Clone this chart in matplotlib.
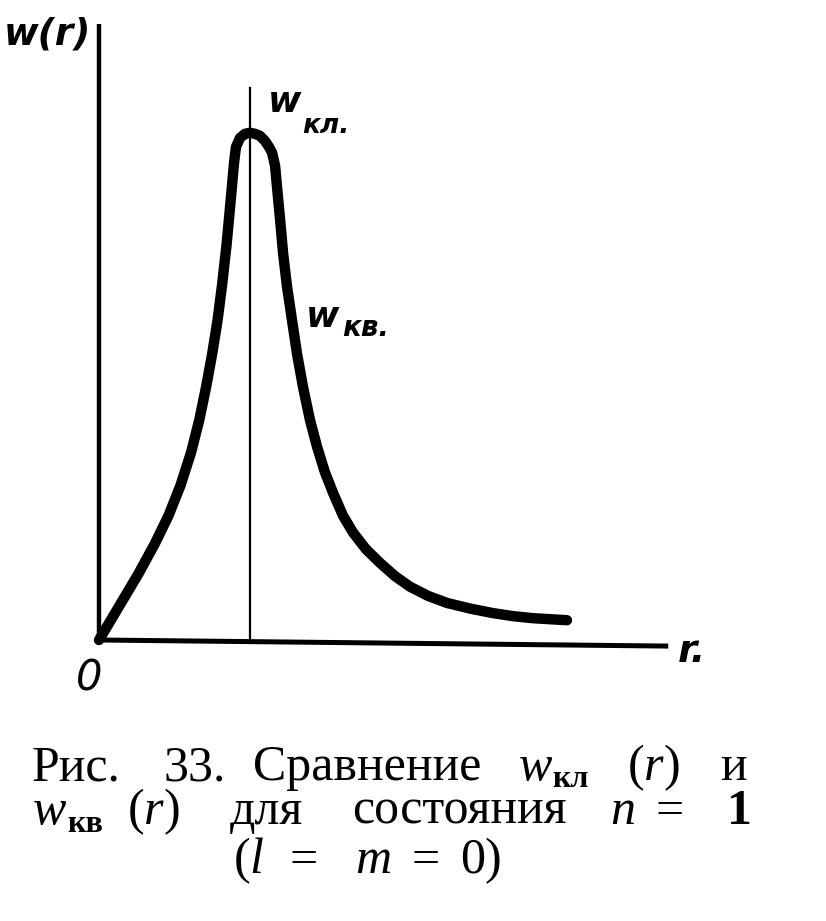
import matplotlib
matplotlib.use("Agg")
import matplotlib.pyplot as plt

# radial distance (in units of the vertical marker) and relative probability,
# read off the scanned figure
r_vals = [0.0, 0.07, 0.16, 0.26, 0.37, 0.46, 0.54, 0.61, 0.665, 0.71,
          0.75, 0.785, 0.815, 0.845, 0.87, 0.894, 0.907, 0.934, 0.967,
          1.0, 1.033, 1.066, 1.099, 1.126, 1.146, 1.166, 1.179, 1.199,
          1.219, 1.245, 1.278, 1.311, 1.351, 1.397, 1.444, 1.496, 1.550,
          1.616, 1.682, 1.768, 1.861, 1.960, 2.060, 2.179, 2.305, 2.457,
          2.609, 2.742, 2.874, 2.987, 3.099]
w_vals = [0.0, 0.035, 0.08, 0.13, 0.19, 0.245, 0.305, 0.37, 0.435, 0.50,
          0.565, 0.63, 0.70, 0.78, 0.86, 0.94, 0.972, 0.990, 0.998,
          1.0, 0.998, 0.994, 0.984, 0.972, 0.961, 0.935, 0.893, 0.830,
          0.763, 0.697, 0.631, 0.565, 0.499, 0.434, 0.381, 0.331, 0.290,
          0.245, 0.212, 0.179, 0.152, 0.126, 0.105, 0.087, 0.073, 0.062,
          0.053, 0.047, 0.043, 0.041, 0.039]

r_marker = 1.0          # position of the classical peak line
marker_top = 1.089
yaxis_top = 1.215
xaxis_end = [3.77, -0.012]

FIG_W, FIG_H = 826, 921

plt.rcParams["mathtext.fontset"] = "custom"
plt.rcParams["mathtext.rm"] = "Liberation Serif"
plt.rcParams["mathtext.it"] = "Liberation Serif:italic"
plt.rcParams["mathtext.bf"] = "Liberation Serif:bold"

fig = plt.figure(figsize=(FIG_W / 100, FIG_H / 100), dpi=100)
fig.patch.set_facecolor("white")

# axes placed so that r=0,w=0 sits at the drawn origin
ax = fig.add_axes([99 / FIG_W, 281 / FIG_H, 604 / FIG_W, 634 / FIG_H])
ax.set_xlim(0, 4.0)
ax.set_ylim(0, 1.25)
ax.axis("off")

ax.plot([0, 0], [0, yaxis_top], color="black", lw=3.2, clip_on=False,
        solid_capstyle="butt")
ax.plot([0, xaxis_end[0]], [0, xaxis_end[1]], color="black", lw=3.6,
        clip_on=False, solid_capstyle="butt")
ax.plot([r_marker, r_marker], [0, marker_top], color="black", lw=1.6,
        clip_on=False)
ax.plot(r_vals, w_vals, color="black", lw=7.5, solid_capstyle="round",
        solid_joinstyle="round", clip_on=False)


def put(x, y, s, size, style="normal", weight="normal", family="DejaVu Sans",
        ha="left"):
    # x, y in pixels from the top-left corner, y is the baseline
    fig.text(x / FIG_W, 1 - y / FIG_H, s, fontsize=size, fontstyle=style,
             fontweight=weight, family=family, ha=ha, va="baseline")


# hand-lettered labels inside the plot
put(4, 45, "w(r)", 27, style="italic", weight="bold")
put(268, 112, "w", 26, style="italic", weight="bold")
put(302, 133, "кл.", 19, style="italic", weight="bold")
put(306, 327, "w", 26, style="italic", weight="bold")
put(342, 336, "кв.", 20, style="italic", weight="bold")
put(76, 690, "0", 30, style="italic")
put(678, 662, "r.", 28, style="italic", weight="bold")

# caption
serif = "Liberation Serif"
fs = 36
put(32, 780, "Рис.", fs, family=serif)
put(163, 780, "33.", fs, family=serif)
put(253, 780, "Сравнение", fs, family=serif)
put(518, 780, "$w$", fs, family=serif)
put(552, 787, "кл", 23, weight="bold", family=serif)
put(627, 780, "$(r)$", fs, family=serif)
put(720, 780, "и", fs, family=serif)

put(32, 824, "$w$", fs, family=serif)
put(67, 832, "кв", 23, weight="bold", family=serif)
put(127, 824, "$(r)$", fs, family=serif)
put(230, 824, "для", fs, family=serif)
put(567, 824, "состояния", fs, family=serif, ha="right")
put(610, 824, "$n$", fs, family=serif)
put(655, 824, "=", fs, family=serif)
put(727, 824, "1", fs, weight="bold", family=serif)

put(233, 873, "$(l$", fs, family=serif)
put(290, 873, "=", fs, family=serif)
put(355, 873, "$m$", fs, family=serif)
put(411, 873, "=", fs, family=serif)
put(460, 873, "0)", fs, family=serif)

fig.savefig("out.png", dpi=100, facecolor="white")
